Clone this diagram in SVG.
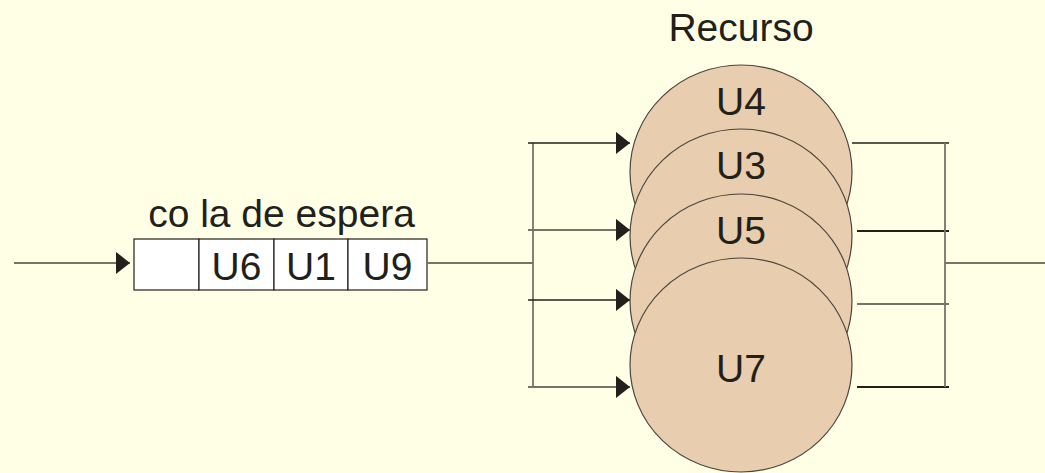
<svg xmlns="http://www.w3.org/2000/svg" width="1045" height="473" viewBox="0 0 1045 473">
<style>
text{font-family:"Liberation Sans",Arial,sans-serif;font-size:39px;fill:#231f1a;text-anchor:middle}
.res{fill:#e8cdae;stroke:#4a453f;stroke-width:1.2}
.cell{fill:#ffffff;stroke:#231f1a;stroke-width:1.2}
.dk{stroke:#231f1a;stroke-width:1.5;fill:none}
.dk2{stroke:#231f1a;stroke-width:2;fill:none}
.gr{stroke:#77736a;stroke-width:1.8;fill:none}
</style>
<defs>
<marker id="ah" markerUnits="userSpaceOnUse" markerWidth="15" markerHeight="23" refX="14.5" refY="11.5" orient="auto">
<path d="M0,0 L14.5,11.5 L0,23 Z" fill="#231f1a"/>
</marker>
</defs>
<rect width="1045" height="473" fill="#ffffe6"/>
<text x="741" y="41">Recurso</text>
<g id="queue">
<rect class="cell" x="134" y="239" width="65" height="51"/>
<rect class="cell" x="199" y="239" width="75" height="51"/>
<rect class="cell" x="274" y="239" width="74" height="51"/>
<rect class="cell" x="348" y="239" width="79" height="51"/>
<text x="281.5" y="227">co la de espera</text>
<text x="236.5" y="280">U6</text>
<text x="311" y="280">U1</text>
<text x="387.5" y="280">U9</text>
</g>
<g id="U4"><ellipse class="res" cx="741" cy="172" rx="111" ry="107"/><text x="741" y="115">U4</text></g>
<g id="U3"><ellipse class="res" cx="741" cy="236" rx="111" ry="107"/><text x="741" y="179">U3</text></g>
<g id="U5"><ellipse class="res" cx="741" cy="301" rx="111" ry="107"/><text x="741" y="244">U5</text></g>
<g id="U7"><ellipse class="res" cx="741" cy="365" rx="111" ry="107"/><text x="741" y="382">U7</text></g>
<g id="connectors">
<line class="gr" x1="14" y1="263" x2="130" y2="263" marker-end="url(#ah)"/>
<line class="gr" x1="427" y1="263" x2="533" y2="263"/>
<line class="gr" x1="533" y1="143" x2="533" y2="387"/>
<line class="dk" x1="528" y1="143" x2="630" y2="143" marker-end="url(#ah)"/>
<line class="gr" x1="528" y1="230" x2="630" y2="230" marker-end="url(#ah)"/>
<line class="dk" x1="528" y1="300" x2="630" y2="300" marker-end="url(#ah)"/>
<line class="gr" x1="528" y1="387" x2="630" y2="387" marker-end="url(#ah)"/>
<line class="dk" x1="852" y1="143" x2="949" y2="143"/>
<line class="dk2" x1="857" y1="231" x2="949" y2="231"/>
<line class="gr" x1="857" y1="304" x2="949" y2="304"/>
<line class="dk2" x1="857" y1="387" x2="949" y2="387"/>
<line class="gr" x1="945" y1="143" x2="945" y2="387"/>
<line class="gr" x1="945" y1="263" x2="1045" y2="263"/>
</g>
</svg>
